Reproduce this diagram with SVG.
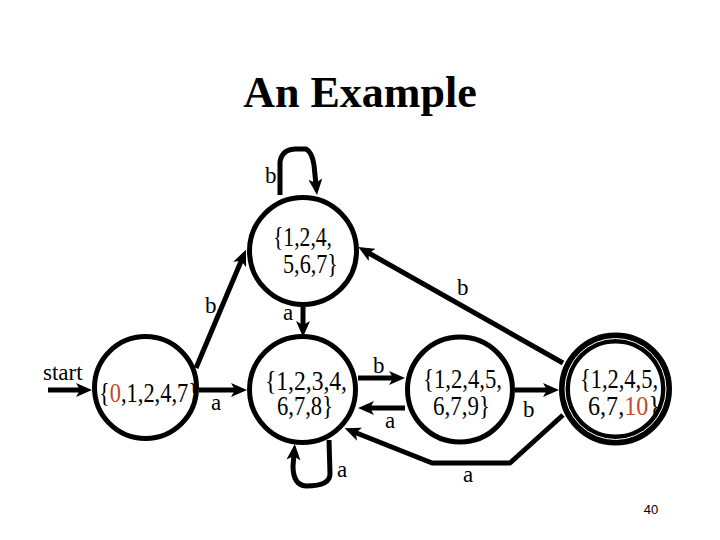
<svg xmlns="http://www.w3.org/2000/svg" width="720" height="540" viewBox="0 0 720 540">
<style>
.node{fill:#fff;stroke:#000;stroke-width:5}
.st{font-family:"Liberation Serif","Times New Roman",serif;font-size:27px;fill:#000}
.lb{font-family:"Liberation Serif","Times New Roman",serif;font-size:23px;fill:#000}
.ed{fill:none;stroke:#000;stroke-width:5;stroke-linejoin:round;marker-end:url(#ah)}
.red{fill:#BE4B2A}
</style>
<defs>
<marker id="ah" markerUnits="userSpaceOnUse" markerWidth="18" markerHeight="14" refX="6" refY="7" orient="auto" viewBox="0 0 18 14">
<path d="M0,0 L16,7 L0,14 L4,7 z" fill="#000"/>
</marker>
</defs>
<rect width="720" height="540" fill="#fff"/>
<text x="360" y="107" text-anchor="middle" font-family="'Liberation Serif','Times New Roman',serif" font-weight="bold" font-size="44">An Example</text>
<g id="connectors">
<line class="ed" x1="48" y1="390" x2="82" y2="390"/>
<line class="ed" x1="199" y1="390" x2="237" y2="390"/>
<line class="ed" x1="196" y1="368" x2="242" y2="259"/>
<line class="ed" x1="303" y1="307" x2="303" y2="327"/>
<line class="ed" x1="358" y1="378" x2="395" y2="378"/>
<line class="ed" x1="405" y1="408" x2="368" y2="408"/>
<line class="ed" x1="515" y1="390" x2="549" y2="390"/>
<line class="ed" x1="563" y1="363" x2="367" y2="252"/>
<polyline class="ed" points="563,415 510,463 432,463 354,432"/>
<path class="ed" d="M329,440 L330,474 Q330,486 306,486 Q293,485 293,466 L294,454"/>
<path class="ed" d="M280,195 L280,162 Q282,149 296,149 L306,149 Q312,152 314,165 L316,185"/>
<text class="lb" x="265" y="183">b</text>
<text class="lb" x="205" y="313">b</text>
<text class="lb" x="283" y="320">a</text>
<text class="lb" x="457" y="295">b</text>
<text class="lb" x="211" y="410">a</text>
<text class="lb" x="373" y="373">b</text>
<text class="lb" x="385" y="428">a</text>
<text class="lb" x="523" y="417">b</text>
<text class="lb" x="463" y="482">a</text>
<text class="lb" x="337" y="477">a</text>
<text class="lb" x="43" y="380">start</text>
</g>
<g id="n_top">
<circle class="node" cx="303" cy="251" r="53.5"/>
<text class="st" x="273" y="246" textLength="59" lengthAdjust="spacingAndGlyphs">{1,2,4,</text>
<text class="st" x="283" y="273" textLength="55" lengthAdjust="spacingAndGlyphs">5,6,7}</text>
</g>
<g id="n_start">
<circle class="node" cx="145.5" cy="387.5" r="51"/>
<text class="st" x="99" y="402" textLength="100" lengthAdjust="spacingAndGlyphs">{<tspan class="red">0</tspan>,1,2,4,7}</text>
</g>
<g id="n_mid">
<circle class="node" cx="302.5" cy="389.5" r="53"/>
<text class="st" x="265" y="390" textLength="82" lengthAdjust="spacingAndGlyphs">{1,2,3,4,</text>
<text class="st" x="277" y="415" textLength="56" lengthAdjust="spacingAndGlyphs">6,7,8}</text>
</g>
<g id="n_9">
<circle class="node" cx="460" cy="389.5" r="52.5"/>
<text class="st" x="423" y="388" textLength="79" lengthAdjust="spacingAndGlyphs">{1,2,4,5,</text>
<text class="st" x="433" y="415" textLength="57" lengthAdjust="spacingAndGlyphs">6,7,9}</text>
</g>
<g id="n_final">
<circle cx="615.5" cy="389" r="45" fill="#fff"/>
<text class="st" x="580" y="388" textLength="78" lengthAdjust="spacingAndGlyphs">{1,2,4,5,</text>
<text class="st" x="588" y="415" textLength="72" lengthAdjust="spacingAndGlyphs">6,7,<tspan class="red">10</tspan>}</text>
<circle cx="615.5" cy="389" r="51" fill="none" stroke="#000" stroke-width="11"/>
<circle cx="615.5" cy="389" r="50.5" fill="none" stroke="#fff" stroke-width="1"/>
</g>
<text x="651" y="514" text-anchor="middle" font-family="'Liberation Sans',Arial,sans-serif" font-size="13">40</text>
</svg>
